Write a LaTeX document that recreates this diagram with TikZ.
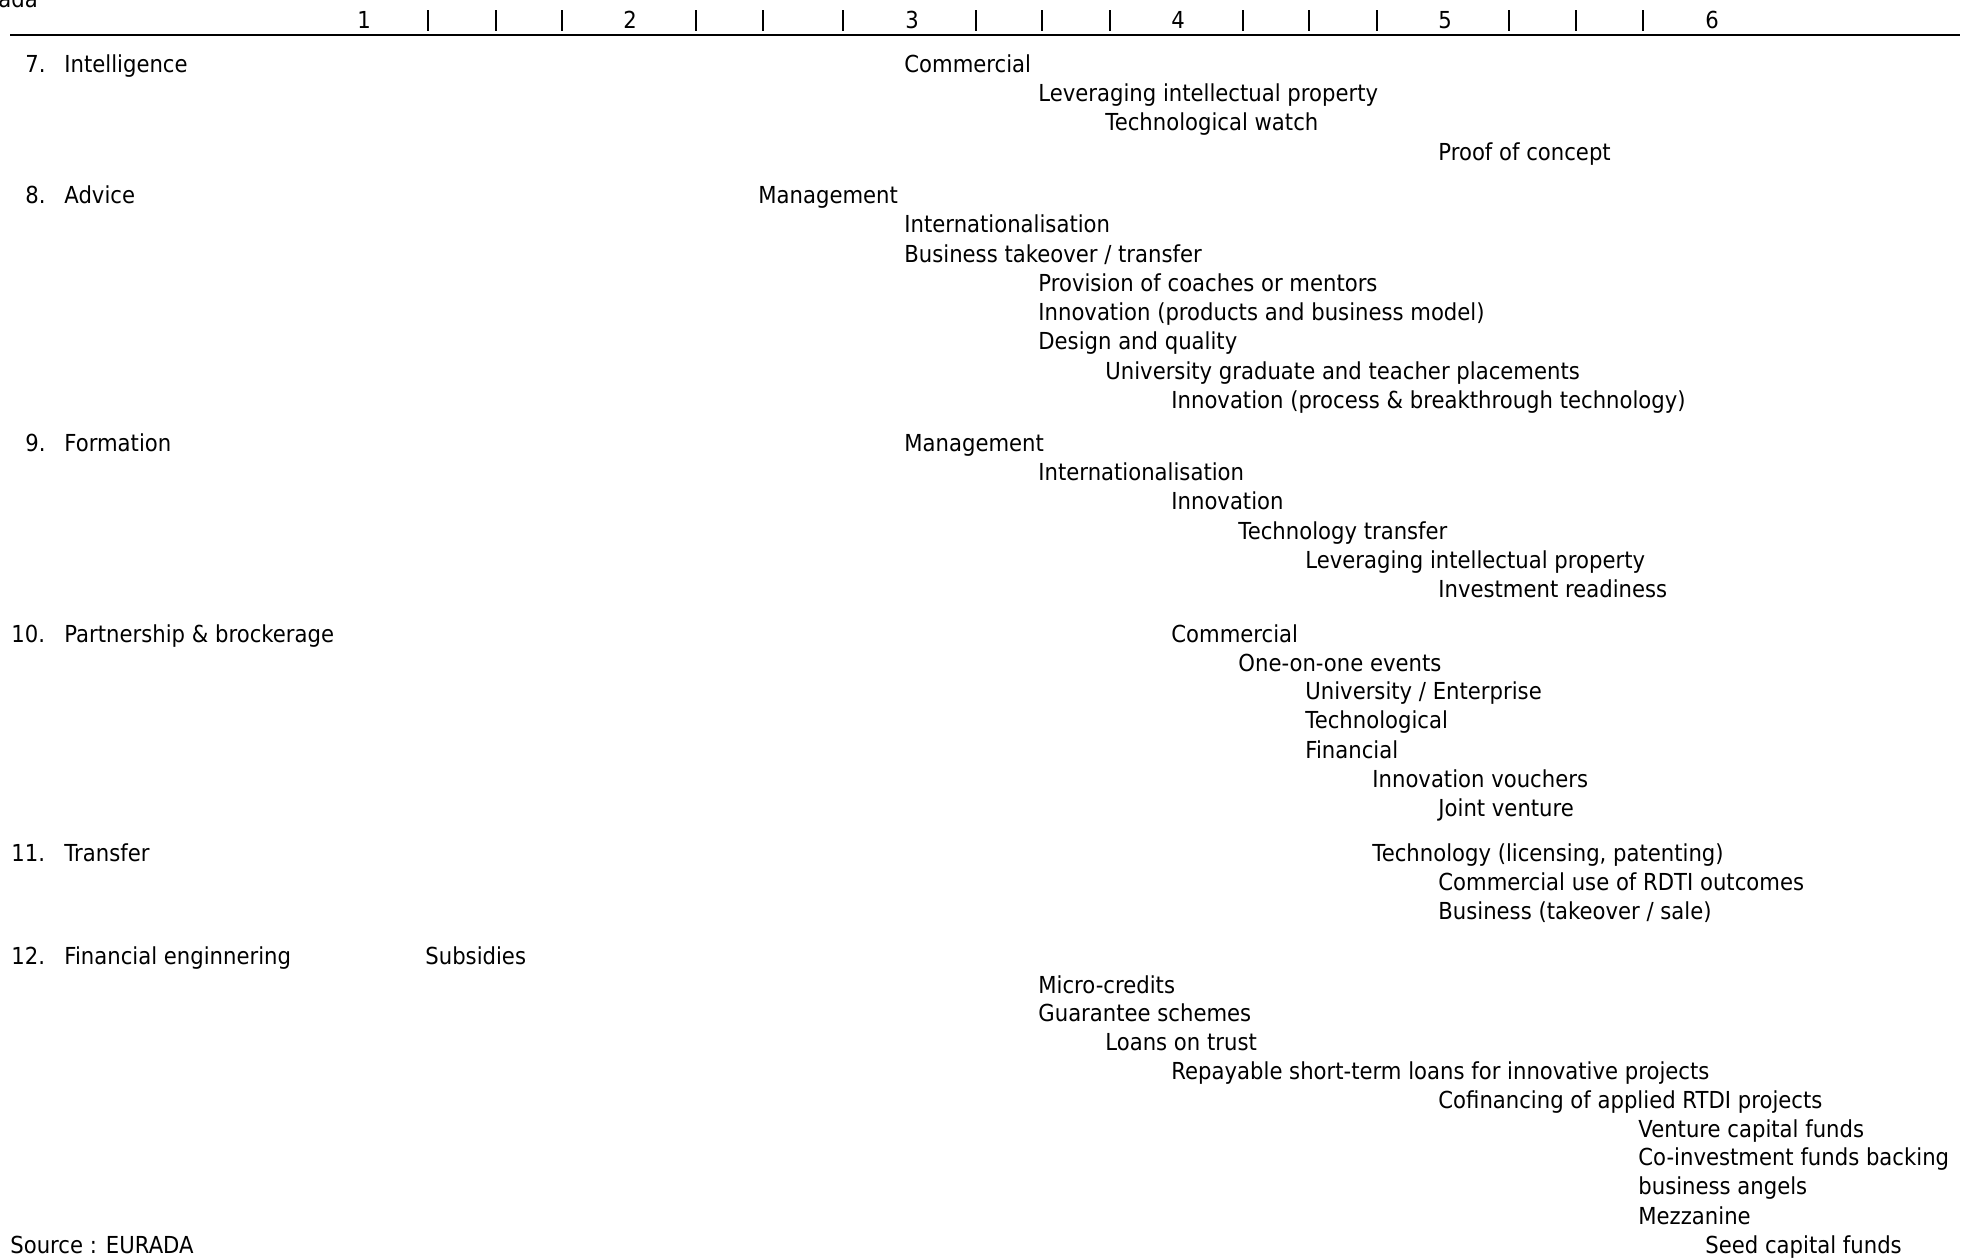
\documentclass[tikz,border=0pt]{standalone}
\usepackage{fontspec}
\setmainfont{DejaVu Sans}[FakeStretch=0.905]
\begin{document}
\begin{tikzpicture}[x=0.5pt,y=-0.5pt,
  lbl/.style={anchor=base west, inner sep=0pt, font=\fontsize{11.7}{14}\selectfont},
  tickmark/.style={line width=1.1pt},
  axisline/.style={line width=1.3pt}]
\useasboundingbox (0,0) rectangle (1964,1258);
\clip (0,0) rectangle (1964,1258);

% remnant of the heading above the scale
\node[lbl] (head) at (-2,8) {ada};

% scale: numbers, tick marks and rule
\node[lbl] (s1) at (357,28) {1};
\node[lbl] (s2) at (623,28) {2};
\node[lbl] (s3) at (905,28) {3};
\node[lbl] (s4) at (1171,28) {4};
\node[lbl] (s5) at (1438,28) {5};
\node[lbl] (s6) at (1705,28) {6};
\foreach \tx in {428,496,562,696,763,843,976,1042,1110,1243,1309,1377,1509,1576,1643}
  \draw[tickmark] (\tx,10) -- (\tx,31);
\coordinate (ruleL) at (10,35);
\coordinate (ruleR) at (1960,35);
\draw[axisline] (ruleL) -- (ruleR);

% 7. Intelligence
\node[lbl] (c7) at (25,72) {7.};
\node[lbl] (h7) at (64,72) {Intelligence};
\node[lbl] (i7a) at (904,72) {Commercial};
\node[lbl] (i7b) at (1038,101) {Leveraging intellectual property};
\node[lbl] (i7c) at (1105,130) {Technological watch};
\node[lbl] (i7d) at (1438,160) {Proof of concept};

% 8. Advice
\node[lbl] (c8) at (25,203) {8.};
\node[lbl] (h8) at (64,203) {Advice};
\node[lbl] (i8a) at (758,203) {Management};
\node[lbl] (i8b) at (904,232) {Internationalisation};
\node[lbl] (i8c) at (904,262) {Business takeover / transfer};
\node[lbl] (i8d) at (1038,291) {Provision of coaches or mentors};
\node[lbl] (i8e) at (1038,320) {Innovation (products and business model)};
\node[lbl] (i8f) at (1038,349) {Design and quality};
\node[lbl] (i8g) at (1105,379) {University graduate and teacher placements};
\node[lbl] (i8h) at (1171,408) {Innovation (process \& breakthrough technology)};

% 9. Formation
\node[lbl] (c9) at (25,451) {9.};
\node[lbl] (h9) at (64,451) {Formation};
\node[lbl] (i9a) at (904,451) {Management};
\node[lbl] (i9b) at (1038,480) {Internationalisation};
\node[lbl] (i9c) at (1171,509) {Innovation};
\node[lbl] (i9d) at (1238,539) {Technology transfer};
\node[lbl] (i9e) at (1305,568) {Leveraging intellectual property};
\node[lbl] (i9f) at (1438,597) {Investment readiness};

% 10. Partnership & brockerage
\node[lbl] (c10) at (11,642) {10.};
\node[lbl] (h10) at (64,642) {Partnership \& brockerage};
\node[lbl] (i10a) at (1171,642) {Commercial};
\node[lbl] (i10b) at (1238,671) {One-on-one events};
\node[lbl] (i10c) at (1305,699) {University / Enterprise};
\node[lbl] (i10d) at (1305,728) {Technological};
\node[lbl] (i10e) at (1305,758) {Financial};
\node[lbl] (i10f) at (1372,787) {Innovation vouchers};
\node[lbl] (i10g) at (1438,816) {Joint venture};

% 11. Transfer
\node[lbl] (c11) at (11,861) {11.};
\node[lbl] (h11) at (64,861) {Transfer};
\node[lbl] (i11a) at (1372,861) {Technology (licensing, patenting)};
\node[lbl] (i11b) at (1438,890) {Commercial use of RDTI outcomes};
\node[lbl] (i11c) at (1438,919) {Business (takeover / sale)};

% 12. Financial engineering
\node[lbl] (c12) at (11,964) {12.};
\node[lbl] (h12) at (64,964) {Financial enginnering};
\node[lbl] (i12a) at (425,964) {Subsidies};
\node[lbl] (i12b) at (1038,993) {Micro-credits};
\node[lbl] (i12c) at (1038,1021) {Guarantee schemes};
\node[lbl] (i12d) at (1105,1050) {Loans on trust};
\node[lbl] (i12e) at (1171,1079) {Repayable short-term loans for innovative projects};
\node[lbl] (i12f) at (1438,1108) {Cofinancing of applied RTDI projects};
\node[lbl] (i12g) at (1638,1137) {Venture capital funds};
\node[lbl] (i12h) at (1638,1165) {Co-investment funds backing};
\node[lbl] (i12i) at (1638,1194) {business angels};
\node[lbl] (i12j) at (1638,1224) {Mezzanine};
\node[lbl] (i12k) at (1705,1253) {Seed capital funds};

% source line
\node[lbl] (src) at (10,1253) {Source : EURADA};
\end{tikzpicture}
\end{document}
